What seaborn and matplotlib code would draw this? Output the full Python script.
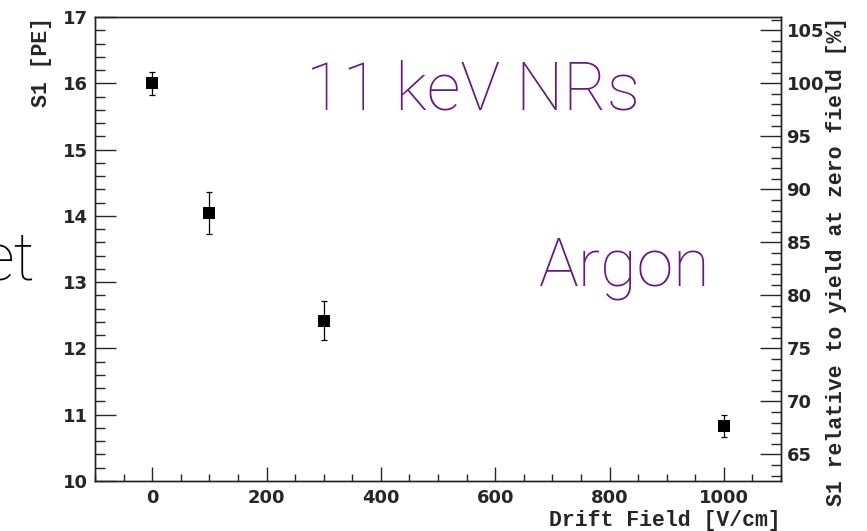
import numpy as np
import pandas as pd
import seaborn as sns
import matplotlib
matplotlib.use("Agg")
import matplotlib.pyplot as plt
from matplotlib.ticker import MultipleLocator

# Argon S1 yield of 11 keV nuclear recoils vs. drift field
drift_field = [0, 100, 300, 1000]          # V/cm
s1_pe = [16.0, 14.04, 12.42, 10.83]        # PE
s1_err = [0.17, 0.32, 0.30, 0.17]          # PE

zero_field_yield = s1_pe[0]

x_ticks = [0, 200, 400, 600, 800, 1000]
y_ticks = [10, 11, 12, 13, 14, 15, 16, 17]
rel_ticks = [65, 70, 75, 80, 85, 90, 95, 100, 105]

df = pd.DataFrame({"field": drift_field, "s1": s1_pe, "err": s1_err})

sns.set_theme(style="ticks")
plt.rcParams["font.family"] = ["DejaVu Sans", "DejaVu Sans Mono"]

fig = plt.figure(figsize=(8.67, 5.31), dpi=100)
ax = fig.add_axes([95 / 867, 1 - 481 / 531, (781 - 95) / 867, (481 - 17) / 531])

ax.errorbar(df["field"], df["s1"], yerr=df["err"], fmt="none",
            ecolor="black", elinewidth=0.9, capsize=2.5, capthick=0.9, zorder=2)
sns.scatterplot(data=df, x="field", y="s1", marker="s", s=85, color="black",
                edgecolor="black", linewidth=0, ax=ax, zorder=3)

ax.set_xlim(-100, 1100)
ax.set_ylim(10, 17)
ax.set_xticks(x_ticks)
ax.set_yticks(y_ticks)
ax.xaxis.set_minor_locator(MultipleLocator(50))
ax.yaxis.set_minor_locator(MultipleLocator(0.2))

tick_font = dict(family="DejaVu Sans", weight="bold", size=13)
label_font = dict(family="Liberation Mono", weight="bold", size=15.5)

ax.set_xticklabels([str(v) for v in x_ticks], fontdict=tick_font)
ax.set_yticklabels([str(v) for v in y_ticks], fontdict=tick_font)
ax.tick_params(axis="x", which="major", direction="in", length=10, width=1.0, pad=6, top=False)
ax.tick_params(axis="x", which="minor", direction="in", length=5, width=1.0, top=False)
ax.tick_params(axis="y", which="major", direction="in", length=15, width=1.0, pad=5, right=False)
ax.tick_params(axis="y", which="minor", direction="in", length=7.5, width=1.0, right=False)

for sp in ax.spines.values():
    sp.set_linewidth(1.0)
    sp.set_color("#222222")

ax.set_xlabel("Drift Field [V/cm]", fontdict=label_font)
ax.xaxis.set_label_coords(1.0, -0.062)
ax.xaxis.label.set_horizontalalignment("right")
ax.set_ylabel("S1 [PE]", fontdict=label_font)
ax.yaxis.set_label_coords(-0.062, 1.0)
ax.yaxis.label.set_horizontalalignment("right")

# right axis: S1 relative to the zero-field yield
ax2 = ax.twinx()
ax2.set_ylim(10 / zero_field_yield * 100, 17 / zero_field_yield * 100)
ax2.set_yticks(rel_ticks)
ax2.set_yticklabels([str(v) for v in rel_ticks], fontdict=tick_font)
ax2.yaxis.set_minor_locator(MultipleLocator(1))
ax2.tick_params(axis="y", which="major", direction="in", length=15, width=1.0, pad=4)
ax2.tick_params(axis="y", which="minor", direction="in", length=7.5, width=1.0)
for sp in ax2.spines.values():
    sp.set_linewidth(1.0)
    sp.set_color("#222222")
ax2.set_ylabel("S1 relative to yield at zero field [%]", fontdict=label_font)
ax2.yaxis.set_label_coords(1.066, 1.0)
ax2.yaxis.label.set_horizontalalignment("right")
ax2.yaxis.label.set_rotation(90)

purple = "#67197f"
big_font = dict(family=["Roboto", "DejaVu Sans"], weight="light", fontsize=48)
fig.text(473 / 867, 1 - 91 / 531, "11 keV NRs", color=purple,
         ha="center", va="center", **big_font)
fig.text(625 / 867, 1 - 268 / 531, "Argon", color=purple,
         ha="center", va="center", **big_font)
fig.text(35 / 867, 1 - 262 / 531, "et", color="black",
         ha="right", va="center", **big_font)

fig.savefig("out.png", dpi=100)
